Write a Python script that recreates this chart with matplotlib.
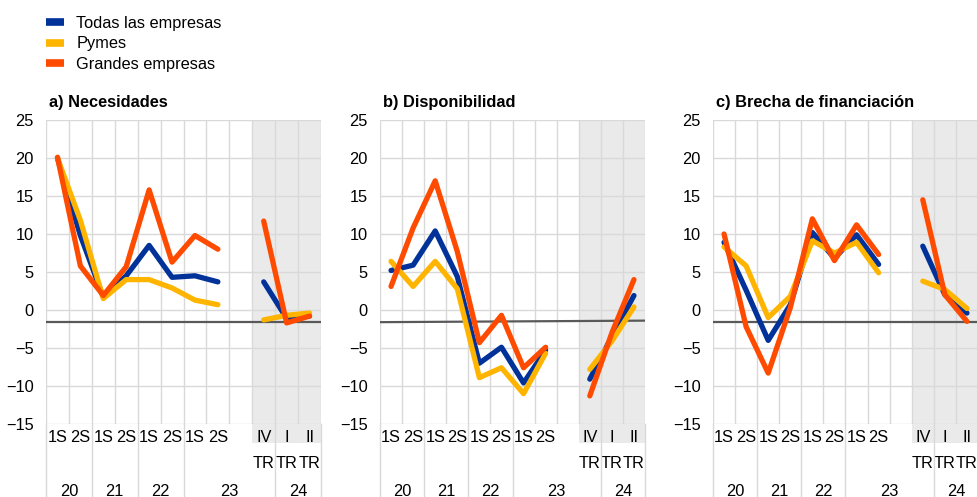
import matplotlib
matplotlib.use("Agg")
import matplotlib.pyplot as plt
import matplotlib.transforms as mtransforms
from matplotlib.lines import Line2D
from matplotlib.patches import Rectangle
import numpy as np

plt.rcParams['font.family'] = ['Liberation Sans', 'DejaVu Sans']

'''Data read off the chart (balance neto, %)'''
nan = np.nan
slot_labels = ["1S", "2S", "1S", "2S", "1S", "2S", "1S", "2S", "", "IV\nTR", "I\nTR", "II\nTR"]
years = ["20", "21", "22", "23", "24"]
year_bounds = [0, 2, 4, 6, 10, 12]     # slot where each year group starts (last = end)

series_names = ["Todas las empresas", "Pymes", "Grandes empresas"]
colors = ["#003299", "#FFB400", "#FF4B00"]

# a) Necesidades
nec_todas = [20.0, 9.8, 1.7, 4.5, 8.5, 4.3, 4.5, 3.7, nan, 3.7, -1.1, -0.8]
nec_pymes = [20.0, 11.8, 1.5, 4.0, 4.0, 2.9, 1.3, 0.7, nan, -1.3, -0.7, -0.4]
nec_grandes = [20.1, 5.8, 1.9, 5.7, 15.8, 6.3, 9.8, 8.0, nan, 11.7, -1.7, -0.8]

# b) Disponibilidad
dis_todas = [5.2, 5.9, 10.4, 4.4, -7.0, -4.9, -9.6, -5.3, nan, -9.1, -3.5, 1.9]
dis_pymes = [6.4, 3.1, 6.4, 2.8, -8.9, -7.6, -11.0, -5.7, nan, -7.8, -4.1, 0.4]
dis_grandes = [3.1, 10.8, 17.0, 7.7, -4.3, -0.7, -7.6, -4.9, nan, -11.3, -3.0, 4.0]

# c) Brecha de financiacion
bre_todas = [8.9, 2.6, -4.0, 0.7, 10.2, 6.8, 9.9, 6.0, nan, 8.4, 2.0, -0.4]
bre_pymes = [8.3, 5.8, -1.0, 1.8, 9.1, 7.5, 8.9, 4.9, nan, 3.8, 2.7, 0.2]
bre_grandes = [10.0, -2.2, -8.3, 0.3, 12.0, 6.5, 11.2, 7.3, nan, 14.5, 2.0, -1.5]

# reference line just below zero (left end, right end)
base_a = [-1.6, -1.6]
base_b = [-1.6, -1.4]
base_c = [-1.6, -1.6]

W, H = 977, 497
fig = plt.figure(figsize=(W / 100, H / 100), dpi=100)

FS = 11.8
grid_col = '#D9D9D9'
shade_col = '#EAEAEA'

def panel(left_px, width_px, title, data, base):
    ax = fig.add_axes([left_px / W, (H - 424) / H, width_px / W, 304 / H])
    x = np.arange(len(slot_labels))
    ax.set_xlim(-0.5, len(slot_labels) - 0.5)
    ax.set_ylim(-15, 25)
    for s in ax.spines.values():
        s.set_visible(False)
    trans = mtransforms.blended_transform_factory(ax.transData, ax.transAxes)
    # shaded quarterly part, reaching into the label area
    ax.add_patch(Rectangle((8.5, -0.063), 3, 1.063, transform=trans, facecolor=shade_col,
                           edgecolor='none', zorder=0, clip_on=False))
    for yv in range(-15, 30, 5):
        ax.axhline(yv, color=grid_col, lw=1, zorder=1)
    for xv in np.arange(-0.5, len(slot_labels), 1):
        ax.axvline(xv, color=grid_col, lw=1, zorder=1)
    # year separators go down through the label rows
    for b in year_bounds:
        ax.add_line(Line2D([b - 0.5, b - 0.5], [0, -0.25], transform=trans, color=grid_col,
                           lw=1, clip_on=False))
    for i, yr in enumerate(years):
        xc = (year_bounds[i] + year_bounds[i + 1] - 1) / 2
        ax.text(xc, -0.221, yr, transform=trans, ha='center', va='center', fontsize=FS)
    ax.plot([-0.5, 11.5], base, color='#595959', lw=1.6, zorder=3)
    for vals, c in zip(data, colors):
        ax.plot(x, vals, color=c, lw=3.8, solid_capstyle='round', solid_joinstyle='round', zorder=4)
    ax.set_yticks(range(-15, 30, 5))
    ax.set_xticks(x)
    ax.set_xticklabels(slot_labels, fontsize=FS, linespacing=1.95)
    ax.tick_params(axis='y', length=0, pad=9, labelsize=FS)
    ax.tick_params(axis='x', length=0, pad=4)
    fig.text((left_px + 3) / W, (H - 103) / H, title, fontsize=FS, fontweight='bold', va='center')
    return ax

panel(46, 275, "a) Necesidades", [nec_todas, nec_pymes, nec_grandes], base_a)
panel(380, 265, "b) Disponibilidad", [dis_todas, dis_pymes, dis_grandes], base_b)
panel(713, 265, "c) Brecha de financiación", [bre_todas, bre_pymes, bre_grandes], base_c)

handles = [Line2D([], [], color=c, lw=5.5, solid_capstyle='butt') for c in colors]
fig.legend(handles, series_names, loc='upper left', bbox_to_anchor=(41 / W, 1 - 11 / H),
           frameon=False, fontsize=FS, handlelength=1.1, handletextpad=0.75,
           labelspacing=0.33, borderaxespad=0, borderpad=0.3)

fig.savefig("out.png", dpi=100)
